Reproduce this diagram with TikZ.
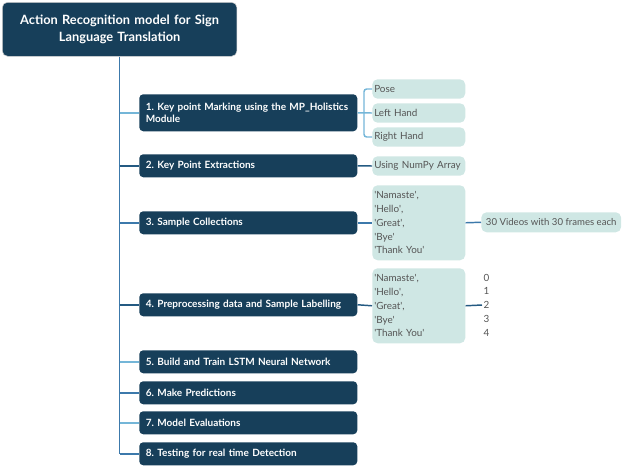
\documentclass[tikz,border=0pt]{standalone}
\usepackage{fontspec}
\setmainfont{Lato}
\frenchspacing
\definecolor{navy}{HTML}{173F5A}
\definecolor{mint}{HTML}{CFE7E4}
\definecolor{lnlight}{HTML}{74B6D8}
\definecolor{lnmid}{HTML}{3C79AB}
\definecolor{lndark}{HTML}{245A82}
\definecolor{txtgray}{HTML}{555555}
\newcommand{\qt}[1]{\textquotesingle#1\textquotesingle}
\tikzset{
	root/.style={fill=navy, draw=gray!35, rounded corners=4pt, text=white, anchor=north west,
		font=\bfseries\fontsize{9.6}{13}\selectfont, align=center, text width=166pt,
		inner xsep=5pt, minimum height=40.5pt},
	item/.style={fill=navy, rounded corners=3pt, text=white, anchor=north west,
		font=\bfseries\fontsize{7.5}{9.5}\selectfont, align=left, text width=153.5pt,
		inner xsep=5pt, minimum height=17.25pt},
	leaf/.style={fill=mint, rounded corners=4pt, text=txtgray, anchor=north west,
		font=\fontsize{7.4}{10.3}\selectfont, align=left, text width=66.75pt,
		inner xsep=1.5pt, minimum height=14.6pt},
	lt/.style={draw=lnlight, line width=1.1pt},
	md/.style={draw=lnmid, line width=1.1pt},
	dk/.style={draw=lndark, line width=1.1pt},
}
\begin{document}
\begin{tikzpicture}[x=0.75pt, y=-0.75pt]
	\useasboundingbox (0,0) rectangle (623,465);

	\node[root] (root) at (2,2) {Action Recognition model for Sign\\Language Translation};

	\node[item, minimum height=27.75pt] (s1) at (139,94) {1. Key point Marking using the MP\textunderscore Holistics\\Module};
	\node[item] (s2) at (139,154) {2. Key Point Extractions};
	\node[item] (s3) at (139,211) {3. Sample Collections};
	\node[item] (s4) at (139,293) {4. Preprocessing data and Sample Labelling};
	\node[item] (s5) at (139,350) {5. Build and Train LSTM Neural Network};
	\node[item] (s6) at (139,381) {6. Make Predictions};
	\node[item] (s7) at (139,411) {7. Model Evaluations};
	\node[item] (s8) at (139,442) {8. Testing for real time Detection};

	\node[leaf] (pose) at (372,79) {Pose};
	\node[leaf] (lhand) at (372,103) {Left Hand};
	\node[leaf] (rhand) at (372,127) {Right Hand};
	\node[leaf] (numpy) at (372,156) {Using NumPy Array};
	\node[leaf, minimum height=56.25pt] (words) at (372,185) {\qt{Namaste},\\\qt{Hello},\\\qt{Great},\\\qt{Bye}\\\qt{Thank You}};
	\node[leaf, minimum height=56.25pt] (labwords) at (372,268) {\qt{Namaste},\\\qt{Hello},\\\qt{Great},\\\qt{Bye}\\\qt{Thank You}};
	\node[leaf, text width=, font=\fontsize{7.2}{10}\selectfont, inner xsep=3.5pt, minimum height=15pt] (videos) at (481,212) {30 Videos with 30 frames each};
	\node[anchor=west, text=txtgray, font=\fontsize{7.4}{10.3}\selectfont, align=left, inner xsep=1pt] (nums) at (482,305) {0\\1\\2\\3\\4};

	\coordinate (k1) at (364,112);

	% trunk and branches
	\draw[md] (root.south) -- (root.south |- s8.west);
	\draw[lt] (root.south |- s1.west) -- (s1.west);
	\draw[dk] (root.south |- s2.west) -- (s2.west);
	\draw[md] (root.south |- s3.west) -- (s3.west);
	\draw[dk] (root.south |- s4.west) -- (s4.west);
	\draw[lt] (root.south |- s5.west) -- (s5.west);
	\draw[md] (root.south |- s6.west) -- (s6.west);
	\draw[lt] (root.south |- s7.west) -- (s7.west);
	\draw[md] (root.south |- s8.west) -- (s8.west);

	% sub branches
	\draw[lt] (s1.east) -- (lhand.west);
	\draw[lt, rounded corners=2pt] (pose.west) -| (k1) |- (rhand.west);
	\draw[dk] (s2.east) -- (numpy.west);
	\draw[md] (s3.east) -- (words.west);
	\draw[md] (words.east) -- (videos.west);
	\draw[dk] (s4.east) -- (labwords.west);
	\draw[dk] (labwords.east) -- (nums.west);
\end{tikzpicture}
\end{document}
